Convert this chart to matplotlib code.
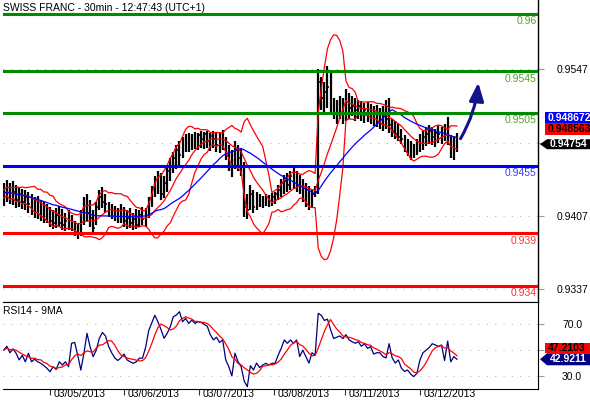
import numpy as np
import pandas as pd
import matplotlib
matplotlib.use("Agg")
import matplotlib.pyplot as plt
from matplotlib.patches import FancyArrowPatch, Polygon
from matplotlib.transforms import Affine2D, ScaledTranslation

plt.rcParams['font.family'] = ['Liberation Sans', 'DejaVu Sans']

# hourly bars
high = [0.9438, 0.9441, 0.9438, 0.9440, 0.9436, 0.9434, 0.9433, 0.9432, 0.9430, 0.9428,
        0.9425, 0.9426, 0.9422, 0.9420, 0.9418, 0.9415, 0.9412, 0.9414, 0.9416, 0.9413,
        0.9410, 0.9412, 0.9408, 0.9402, 0.9400, 0.9412, 0.9425, 0.9428, 0.9422, 0.9412,
        0.9420, 0.9432, 0.9434, 0.9428, 0.9420, 0.9418, 0.9416, 0.9414, 0.9418, 0.9415,
        0.9412, 0.9414, 0.9410, 0.9413, 0.9412, 0.9415, 0.9414, 0.9425, 0.9435, 0.9445,
        0.9450, 0.9448, 0.9445, 0.9455, 0.9462, 0.9468, 0.9475, 0.9478, 0.9482, 0.9485,
        0.9486, 0.9485, 0.9487, 0.9486, 0.9488, 0.9487, 0.9488, 0.9486, 0.9488, 0.9487,
        0.9486, 0.9489, 0.9482, 0.9475, 0.9470, 0.9478, 0.9475, 0.9472, 0.9458, 0.9428,
        0.9436, 0.9432, 0.9430, 0.9428, 0.9426, 0.9428, 0.9427, 0.9429, 0.9430, 0.9436,
        0.9442, 0.9446, 0.9448, 0.9450, 0.9453, 0.9450, 0.9446, 0.9442, 0.9438, 0.9435,
        0.9432, 0.9435, 0.9547, 0.9540, 0.9535, 0.9550, 0.9545, 0.9520, 0.9518, 0.9522,
        0.9520, 0.9528, 0.9524, 0.9522, 0.9520, 0.9518, 0.9517, 0.9515, 0.9516, 0.9514,
        0.9512, 0.9513, 0.9510, 0.9512, 0.9518, 0.9520, 0.9500, 0.9498, 0.9495, 0.9490,
        0.9484, 0.9480, 0.9478, 0.9476, 0.9480, 0.9485, 0.9488, 0.9492, 0.9494, 0.9492,
        0.9490, 0.9494, 0.9492, 0.9495, 0.9501, 0.9484, 0.9482, 0.9486]
low = [0.9416, 0.9420, 0.9418, 0.9417, 0.9414, 0.9415, 0.9413, 0.9412, 0.9410, 0.9408,
       0.9405, 0.9404, 0.9402, 0.9400, 0.9400, 0.9396, 0.9394, 0.9395, 0.9396, 0.9393,
       0.9392, 0.9393, 0.9392, 0.9388, 0.9385, 0.9388, 0.9398, 0.9402, 0.9396, 0.9390,
       0.9398, 0.9412, 0.9414, 0.9410, 0.9406, 0.9404, 0.9402, 0.9400, 0.9400, 0.9396,
       0.9394, 0.9395, 0.9393, 0.9394, 0.9396, 0.9398, 0.9396, 0.9405, 0.9415, 0.9425,
       0.9428, 0.9422, 0.9424, 0.9430, 0.9440, 0.9448, 0.9452, 0.9455, 0.9462, 0.9468,
       0.9468, 0.9470, 0.9471, 0.9470, 0.9472, 0.9471, 0.9472, 0.9469, 0.9472, 0.9468,
       0.9467, 0.9470, 0.9460, 0.9450, 0.9444, 0.9452, 0.9450, 0.9445, 0.9406, 0.9404,
       0.9412, 0.9410, 0.9412, 0.9415, 0.9414, 0.9416, 0.9415, 0.9416, 0.9418, 0.9422,
       0.9425, 0.9428, 0.9430, 0.9432, 0.9433, 0.9430, 0.9428, 0.9420, 0.9415, 0.9412,
       0.9414, 0.9425, 0.9428, 0.9508, 0.9505, 0.9510, 0.9505, 0.9500, 0.9495, 0.9500,
       0.9495, 0.9498, 0.9500, 0.9502, 0.9498, 0.9500, 0.9498, 0.9496, 0.9497, 0.9495,
       0.9493, 0.9492, 0.9490, 0.9488, 0.9490, 0.9486, 0.9482, 0.9480, 0.9478, 0.9476,
       0.9468, 0.9464, 0.9460, 0.9462, 0.9465, 0.9468, 0.9470, 0.9474, 0.9476, 0.9475,
       0.9473, 0.9477, 0.9476, 0.9478, 0.9475, 0.9462, 0.9460, 0.9468]
close = [0.9428, 0.9432, 0.9425, 0.9430, 0.9422, 0.9428, 0.9420, 0.9425, 0.9418, 0.9415,
         0.9412, 0.9416, 0.9410, 0.9408, 0.9405, 0.9402, 0.9400, 0.9408, 0.9400, 0.9398,
         0.9402, 0.9400, 0.9396, 0.9394, 0.9392, 0.9406, 0.9418, 0.9410, 0.9405, 0.9395,
         0.9415, 0.9425, 0.9420, 0.9418, 0.9410, 0.9414, 0.9408, 0.9405, 0.9410, 0.9402,
         0.9405, 0.9400, 0.9404, 0.9398, 0.9408, 0.9404, 0.9410, 0.9420, 0.9430, 0.9440,
         0.9435, 0.9428, 0.9438, 0.9450, 0.9455, 0.9462, 0.9470, 0.9465, 0.9476, 0.9480,
         0.9475, 0.9482, 0.9478, 0.9484, 0.9480, 0.9485, 0.9478, 0.9483, 0.9480, 0.9475,
         0.9481, 0.9477, 0.9466, 0.9460, 0.9455, 0.9470, 0.9462, 0.9455, 0.9415, 0.9412,
         0.9428, 0.9415, 0.9420, 0.9420, 0.9418, 0.9424, 0.9420, 0.9425, 0.9428, 0.9432,
         0.9438, 0.9440, 0.9436, 0.9445, 0.9440, 0.9436, 0.9432, 0.9425, 0.9420, 0.9418,
         0.9428, 0.9430, 0.9535, 0.9520, 0.9525, 0.9530, 0.9512, 0.9510, 0.9505, 0.9512,
         0.9508, 0.9515, 0.9510, 0.9512, 0.9508, 0.9512, 0.9505, 0.9508, 0.9504, 0.9502,
         0.9506, 0.9500, 0.9498, 0.9495, 0.9500, 0.9494, 0.9488, 0.9485, 0.9482, 0.9480,
         0.9472, 0.9470, 0.9466, 0.9470, 0.9475, 0.9480, 0.9482, 0.9485, 0.9488, 0.9482,
         0.9486, 0.9485, 0.9488, 0.9484, 0.9480, 0.9470, 0.9478, 0.94754]
rsi = [50, 53, 48, 51, 47.6, 42.4, 46, 41, 47.6, 41,
       43, 41, 39.8, 38, 36, 33.3, 37.2, 35, 41, 38.5,
       41, 37.2, 55.3, 56, 46, 34.6, 47.6, 63, 52.7, 44.9,
       50, 59.2, 63.7, 61, 53, 48, 44, 42, 44, 47,
       42.4, 41, 39.8, 41, 43.8, 43.8, 52, 65, 71, 77,
       72, 66, 59.2, 63, 68, 75.9, 77.2, 79.8, 72, 74.6,
       70.7, 73.3, 70.7, 72, 71.5, 70, 68.5, 62, 58, 60,
       56, 58, 42.4, 37.2, 30, 47.6, 41, 37.2, 26, 21.7,
       38, 34.6, 40, 36.5, 38.5, 39.8, 38.5, 39.8, 39.8, 46,
       51.4, 57.9, 55.3, 57.9, 55.3, 57.9, 45, 50, 45, 40,
       48, 46, 78.5, 77, 73, 74, 66, 59, 60, 61,
       59, 62, 58, 56.5, 55.3, 56.5, 53, 55, 51.4, 52.7,
       47, 48, 48, 45, 44, 55, 44, 40, 42.4, 36,
       33.5, 34.6, 31.5, 29.5, 32, 42.4, 48, 50, 52, 55,
       54, 53, 54, 42, 57, 41, 45, 42.9211]

green_levels = [0.96, 0.9545, 0.9505]
green_labels = ["0.96", "0.9545", "0.9505"]
blue_levels = [0.9455]
blue_labels = ["0.9455"]
red_levels = [0.939, 0.934]
red_labels = ["0.939", "0.934"]
price_ticks = [0.9337, 0.9407, 0.9477, 0.9547]
price_tick_labels = ["0.9337", "0.9407", "", "0.9547"]   # 0.9477 sits under the value tags
rsi_ticks = [30, 50, 70]
rsi_tick_labels = ["30.0", "", "70.0"]                   # 50.0 sits under the value tags
date_pos = [15, 39, 63.3, 87.6, 110.7, 135]
date_labels = ["03/05/2013", "03/06/2013", "03/07/2013", "03/08/2013", "03/11/2013", "03/12/2013"]
arrow_target = 0.9537

W, H = 590, 400
fig = plt.figure(figsize=(W / 100, H / 100), dpi=100)
ax = fig.add_axes([3 / W, 1 - 302 / H, 535 / W, 302 / H])
ax2 = fig.add_axes([3 / W, 1 - 389 / H, 535 / W, 87 / H])

x = np.arange(len(close))
c = pd.Series(close)
mid = c.rolling(10, min_periods=1).mean()
sd = c.rolling(10, min_periods=2).std(ddof=0).bfill()
ma = c.rolling(25, min_periods=1).mean()
rsi_ma = pd.Series(rsi).rolling(5, min_periods=1).mean()

# --- price panel ---
ax.vlines(x, low, high, color="black", lw=1.6, zorder=3)
ax.hlines(close, x, x + 0.5, color="black", lw=1.1, zorder=3)
ax.plot(x, mid + 2 * sd, color="#ff0000", lw=0.9, zorder=4)
ax.plot(x, mid, color="#ff0000", lw=0.9, zorder=4)
ax.plot(x, mid - 2 * sd, color="#ff0000", lw=0.9, zorder=4)
ax.plot(x, ma, color="#0000ff", lw=0.9, zorder=4)


def levels(vals, labels, lc, tc):
    for v, t in zip(vals, labels):
        ax.axhline(v, color=lc, lw=2.2, zorder=5)
        ax.annotate(t, xy=(1, v), xycoords=("axes fraction", "data"), xytext=(-1, -1.5),
                    textcoords="offset points", ha="right", va="top", color=tc, fontsize=7.5)


levels(green_levels, green_labels, "#008a00", "#55a02a")
levels(blue_levels, blue_labels, "#0000ff", "#3a3aff")
levels(red_levels, red_labels, "#ff0000", "#ff3030")

arr = FancyArrowPatch((x[-1] + 0.7, close[-1] + 0.0003), (x[-1] + 7.0, arrow_target),
                      connectionstyle="arc3,rad=0.12",
                      arrowstyle="-|>,head_length=0.55,head_width=0.22",
                      mutation_scale=20, lw=2.2, color="#14148a", zorder=6)
ax.add_patch(arr)

ax.set_xlim(-0.25, 173.3)
ax.set_ylim(0.93244, 0.96134)
ax.set_xticks([])
ax.set_yticks(price_ticks)
ax.set_yticklabels(price_tick_labels)
ax.yaxis.tick_right()
ax.grid(axis="y", color="#b4b4b4", linestyle=(0, (1, 7)), lw=0.75)
ax.tick_params(axis="y", direction="out", length=4, color="#999999", labelsize=7.5, pad=20.5)
for lb in ax.get_yticklabels():
    lb.set_ha("center")
for s in ["top", "left"]:
    ax.spines[s].set_visible(False)
ax.spines["right"].set_linewidth(1.0)
ax.annotate("SWISS FRANC - 30min - 12:47:43 (UTC+1)", xy=(0, 1), xycoords="axes fraction",
            xytext=(0, -2), textcoords="offset points", ha="left", va="top", fontsize=7.5)

# --- RSI panel ---
ax2.plot(x, rsi, color="#000080", lw=0.9, zorder=3)
ax2.plot(x, rsi_ma, color="#ff0000", lw=0.9, zorder=4)
ax2.set_xlim(-0.25, 173.3)
ax2.set_ylim(19.9, 87.3)
ax2.set_yticks(rsi_ticks)
ax2.set_yticklabels(rsi_tick_labels)
ax2.yaxis.tick_right()
ax2.grid(axis="y", color="#b4b4b4", linestyle=(0, (1, 7)), lw=0.75)
ax2.tick_params(axis="y", direction="out", length=4, color="#999999", labelsize=7.5, pad=20.5)
for lb in ax2.get_yticklabels():
    lb.set_ha("center")
ax2.set_xticks(date_pos)
ax2.tick_params(axis="x", direction="out", length=4.5, width=0.8, color="#333333", labelbottom=False)
for p, t in zip(date_pos, date_labels):
    ax2.annotate(t, xy=(p, 0), xycoords=("data", "axes fraction"), xytext=(2.5, -5.9),
                 textcoords="offset points", ha="left", va="baseline", fontsize=7.5)
ax2.spines["left"].set_visible(False)
ax2.annotate("RSI14 - 9MA", xy=(0, 1), xycoords="axes fraction",
             xytext=(0, -3), textcoords="offset points", ha="left", va="top", fontsize=7.5)


def value_tag(a, val, text, fc, tc, dy=0.0, x0=7, half=5.5, pointer=False):
    tr = Affine2D() + ScaledTranslation(1, val, a.get_yaxis_transform())
    verts = [(x0, dy - half), (80, dy - half), (80, dy + half), (x0, dy + half)]
    if pointer:
        verts = [(2, dy)] + verts
    a.add_patch(Polygon(verts, closed=True, transform=tr, fc=fc, ec="none",
                        clip_on=False, zorder=10))
    a.text(x0 + 2.5, dy, text, transform=tr, ha="left", va="center", color=tc,
           fontsize=7.5, fontweight="bold", zorder=11, clip_on=False)


value_tag(ax, close[-1], "0.948672", "#0000ff", "white", dy=26.5)
value_tag(ax, close[-1], "0.948563", "#ff0000", "black", dy=15, half=6)
value_tag(ax, close[-1], "0.94754", "black", "white", x0=9, half=5, pointer=True)
value_tag(ax2, rsi[-1], "47.2103", "#ff0000", "black", dy=11.3, half=5)
value_tag(ax2, rsi[-1], "42.9211", "#000080", "white", x0=9, half=6, pointer=True)

fig.savefig("out.png", dpi=100)
